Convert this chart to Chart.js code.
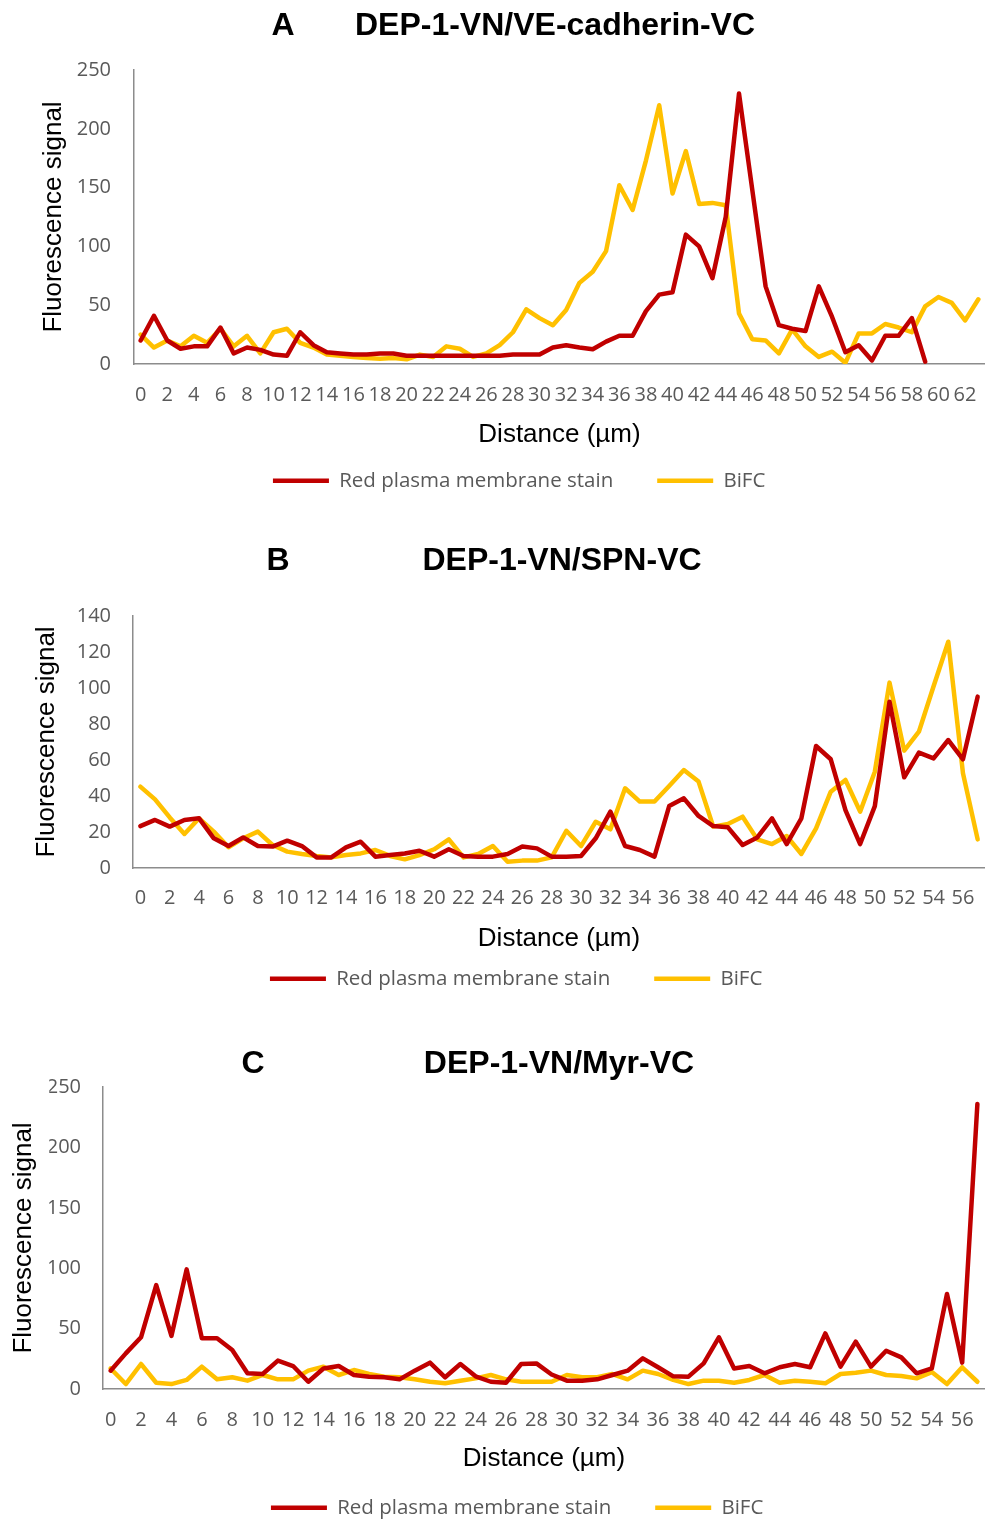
<!DOCTYPE html>
<html>
<head>
<meta charset="utf-8">
<script src="https://cdn.jsdelivr.net/npm/chart.js@4.4.1/dist/chart.umd.min.js"></script>
<style>
  html, body { margin: 0; padding: 0; background: #fff; overflow: hidden; }
  body { width: 985px; height: 1521px; position: relative; }
  canvas { position: absolute; left: 0; }
  .ttl { position: absolute; font-family: 'Liberation Sans', Arial, sans-serif; font-weight: bold;
         font-size: 32px; color: #000; line-height: 1; transform: translate(-50%, -50%); white-space: nowrap; }
</style>
</head>
<body>
<canvas id="chartA" width="985" height="501" style="top:0px"></canvas>
<canvas id="chartB" width="985" height="484" style="top:515px"></canvas>
<canvas id="chartC" width="985" height="503" style="top:1025px"></canvas>

<div class="ttl" style="left:283px;top:24px">A</div>
<div class="ttl" style="left:555px;top:24px">DEP-1-VN/VE-cadherin-VC</div>
<div class="ttl" style="left:278px;top:559px">B</div>
<div class="ttl" style="left:562px;top:559px">DEP-1-VN/SPN-VC</div>
<div class="ttl" style="left:253px;top:1062px">C</div>
<div class="ttl" style="left:559px;top:1062px">DEP-1-VN/Myr-VC</div>

<script>
// Line profiles: distance along the cell (µm) vs. fluorescence intensity
const distanceA = [0,1,2,3,4,5,6,7,8,9,10,11,12,13,14,15,16,17,18,19,20,21,22,23,24,25,26,27,28,29,30,31,
  32,33,34,35,36,37,38,39,40,41,42,43,44,45,46,47,48,49,50,51,52,53,54,55,56,57,58,59,60,61,62,63];
const membraneA = [20,41,20,13,15,15,31,9,14,12, 8,7,27,16,10,9,8,8,9,9, 7,7,7,7,7,7,7,7,8,8,
  8,14,16,14,12.5,19,24,24,45,59, 61,110,100,73,125,230,148,66,33,30, 28,66,40,10,16,3,24,24,39,2,
  null,null,null,null];
const bifcA = [25,14,20,15,24,18,30,15,24,9, 27,30,18,14,8,7,6,5,4.5,5, 4,8,6,15,13,6,9,16,27,46.5,
  39,33,46,69,78.5,96,152,131,173,220, 145,181,136,137,135,43,21,20,9,29.5, 15,6,10.5,1,26,26,34,31,27,49,
  57,52,37,55];

const distanceB = [0,1,2,3,4,5,6,7,8,9,10,11,12,13,14,15,16,17,18,19,20,21,22,23,24,25,26,27,28,29,30,31,
  32,33,34,35,36,37,38,39,40,41,42,43,44,45,46,47,48,49,50,51,52,53,54,55,56,57];
const membraneB = [23.3,26.7,23,26.7,27.6,16.5,12.2,17,12.2,11.9, 15.2,12.2,5.9,5.9,11.5,14.6,6.3,7.2,8.1,9.6,
  6.3,10.4,6.7,6.3,6.3,7.8,11.9,10.9,6.3,6.3, 6.7,16.5,31.3,12.2,10,6.3,34.4,38.7,28.9,23.3,
  22.6,12.8,17,27.6,13.3,27.6,67.8,60.4,32.2,13.3, 34.4,92.4,50.4,64.1,60.9,71.1,60.4,95.2];
const bifcB = [45.2,38.1,28.1,18.9,27.6,20.2,11.5,16.5,20.2,12.8, 9.1,7.8,6.7,5.9,7.2,8.1,10,6.7,4.8,7.2,
  10.4,15.9,5.9,7.8,12.2,3.5,4.1,4.1,5.9,20.7, 12.2,25.7,21.5,44.3,36.9,36.9,45.6,54.4,48,23,
  24.4,28.5,15.9,13.3,17.8,7.8,22,42.4,48.9,31.3, 53.5,103,65.2,75.7,101,125.7,52.6,15.9];

const distanceC = [0,1,2,3,4,5,6,7,8,9,10,11,12,13,14,15,16,17,18,19,20,21,22,23,24,25,26,27,28,29,30,31,
  32,33,34,35,36,37,38,39,40,41,42,43,44,45,46,47,48,49,50,51,52,53,54,55,56,57];
const membraneC = [15.2,29.5,42.8,86,43.9,99,42,42,32.3,13, 12.4,23.5,19,6,17,19,11.6,10.2,9.7,8,
  15.2,21.8,9.7,20.7,10.5,6,5.2,20.7,21.2,12, 6.9,6.9,8,11.6,15.2,25.4,18,10.5,10.2,21.2,
  42.8,17,19,13,18,20.7,18,46,18.5,39.2, 18.5,31.7,26.2,13,17,78.6,21.8,236];
const bifcC = [17,4.1,20.7,5.2,4.1,7.5,18.5,8,9.7,6.9, 11.6,8,8,15.2,18.5,11.6,15.7,12.4,10.2,9.7,
  8,6,4.7,6.9,8.8,11.6,8,6,6,6, 11.6,9.7,9.7,12.4,8,15.2,12.4,7.5,4.1,6.9,
  6.9,5.2,7.5,11.6,5.2,6.9,6,4.7,12.4,13.5, 15.2,11.6,10.8,8.8,14,4.1,18,6];

const seriesNames = ['Red plasma membrane stain', 'BiFC'];
const RED = '#C00000';
const GOLD = '#FFC000';
const AXIS = '#8c8c8c';
const LABEL_GREY = '#595959';
const sansLabel = "'Open Sans', sans-serif";
const sansTitle = "'Liberation Sans', Arial, sans-serif";

function lineSet(name, values, color) {
  return {
    label: name, data: values, borderColor: color, backgroundColor: color,
    borderWidth: 4.5, pointRadius: 0, pointHoverRadius: 0, tension: 0,
    borderJoinStyle: 'round', borderCapStyle: 'round', spanGaps: false
  };
}

function profileChart(id, labels, membrane, bifc, g) {
  return new Chart(document.getElementById(id), {
    type: 'line',
    data: {
      labels: labels.map(String),
      datasets: [lineSet(seriesNames[0], membrane, RED), lineSet(seriesNames[1], bifc, GOLD)]
    },
    options: {
      responsive: false, animation: false, devicePixelRatio: 1,
      layout: { padding: { top: g.padTop, left: g.padLeft, right: 0, bottom: 0 } },
      plugins: {
        tooltip: { enabled: false },
        legend: {
          position: 'bottom',
          labels: {
            usePointStyle: true, pointStyle: 'line', pointStyleWidth: 56,
            padding: 44, color: LABEL_GREY, font: { family: sansLabel, size: 20.5 }
          }
        }
      },
      scales: {
        x: {
          type: 'category', offset: true,
          grid: { display: false, drawTicks: false },
          border: { display: true, color: AXIS, width: 1.5 },
          ticks: {
            autoSkip: false, maxRotation: 0, minRotation: 0, padding: g.xTickPad,
            color: LABEL_GREY, font: { family: sansLabel, size: 20 },
            callback: (v, i) => (i % 2 === 0 ? labels[i] : '')
          },
          title: { display: true, text: 'Distance (µm)', color: '#000',
                   font: { family: sansTitle, size: 26 }, padding: { top: g.xTitlePad, bottom: g.xTitlePad } },
          afterFit: s => { s.height = g.xHeight; s.paddingLeft = 0; s.paddingRight = 0; }
        },
        y: {
          min: 0, max: g.yMax,
          grid: { display: false, drawTicks: false },
          border: { display: true, color: AXIS, width: 1.5 },
          ticks: { stepSize: g.yStep, padding: g.yTickPad, color: LABEL_GREY,
                   font: { family: sansLabel, size: 20 } },
          title: { display: true, text: 'Fluorescence signal', color: '#000',
                   font: { family: sansTitle, size: 26 }, padding: { top: g.yTitlePad, bottom: g.yTitlePad } },
          afterFit: s => { s.width = g.yWidth; }
        }
      }
    }
  });
}

profileChart('chartA', distanceA, membraneA, bifcA,
  { padTop: 70, padLeft: 53.3, yWidth: 80.7, yTitlePad: -15.4, yTickPad: 23,
    xHeight: 62.5, xTickPad: 19, xTitlePad: -24.1, yMax: 250, yStep: 50 });
profileChart('chartB', distanceB, membraneB, bifcB,
  { padTop: 101, padLeft: 47.3, yWidth: 85.7, yTitlePad: -16.4, yTickPad: 22,
    xHeight: 56.5, xTickPad: 18, xTitlePad: -30.1, yMax: 140, yStep: 20 });
profileChart('chartC', distanceC, membraneC, bifcC,
  { padTop: 62, padLeft: 49.3, yWidth: 53.7, yTitlePad: -41.4, yTickPad: 22,
    xHeight: 64.5, xTickPad: 19, xTitlePad: -21.1, yMax: 250, yStep: 50 });
</script>
</body>
</html>
